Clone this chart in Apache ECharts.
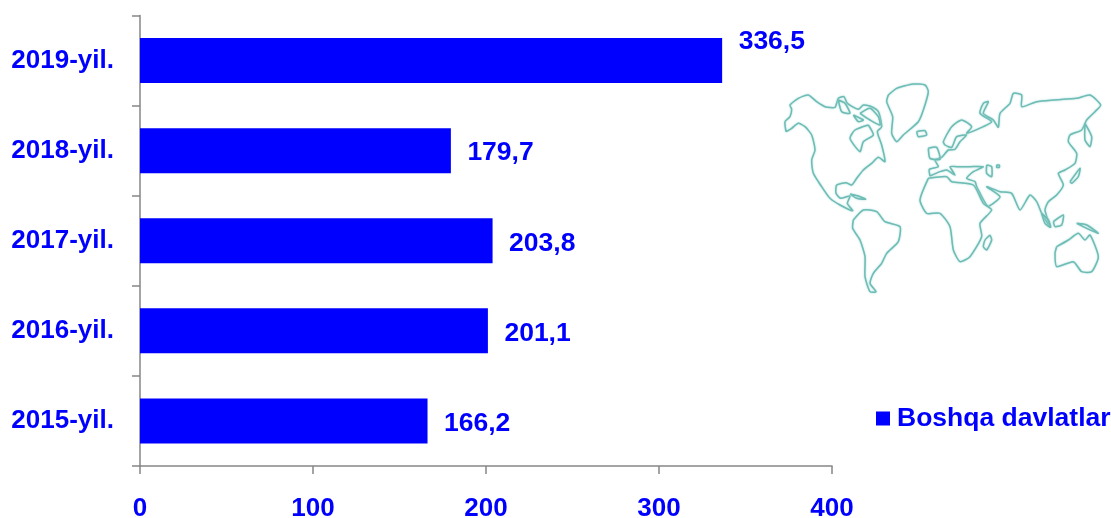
<!DOCTYPE html>
<html><head><meta charset="utf-8">
<style>html,body{margin:0;padding:0;background:#fff}#c{width:1111px;height:518px}</style>
<script src="https://cdn.jsdelivr.net/npm/echarts@6/dist/echarts.min.js"></script>
</head><body><div id="c"></div>
<script>
const categories = ['2015-yil.','2016-yil.','2017-yil.','2018-yil.','2019-yil.'];
const values = [166.2,201.1,203.8,179.7,336.5];
const seriesName = 'Boshqa davlatlar';
const xTicks = {min:0,max:400,interval:100};
const BLUE = '#0000ff';
const FF = '"Liberation Sans", Arial, sans-serif';

// decorative world-map outline, in a 3x picture space
const mapOutlines = [
 [[48,185],[45,155],[60,140],[65,118],[60,105],[85,85],[115,75],[140,95],[165,110],[195,112],[205,85],[222,80],[232,100],[265,118],[280,105],[300,108],[325,125],[335,170],[322,185],[335,225],[345,275],[325,262],[305,280],[280,300],[260,325],[245,345],[228,338],[200,345],[198,370],[212,385],[240,378],[232,400],[248,422],[210,405],[180,385],[155,350],[130,310],[125,270],[135,240],[125,195],[105,170],[85,160],[65,175],[48,185]],
 [[295,165],[255,180],[240,205],[270,245],[280,215],[310,195],[295,165]],
 [[270,130],[300,115],[325,140],[330,165],[300,150],[270,130]],
 [[205,90],[225,100],[240,130],[215,125],[205,90]],
 [[250,135],[280,150],[265,155],[250,135]],
 [[355,75],[380,55],[430,42],[465,45],[475,65],[460,120],[445,155],[400,195],[380,215],[365,190],[368,140],[350,95],[355,75]],
 [[440,185],[465,182],[470,195],[445,200],[440,185]],
 [[250,450],[280,420],[320,425],[345,455],[390,470],[385,515],[350,550],[335,580],[310,610],[300,640],[318,665],[300,665],[285,620],[285,560],[270,510],[248,475],[250,450]],
 [[240,372],[265,378],[287,388],[260,385],[240,372]],
 [[480,318],[478,298],[505,290],[495,270],[515,262],[535,240],[555,238],[570,215],[590,195],[560,200],[545,232],[525,225],[520,215],[545,170],[575,150],[605,170],[590,190],[640,170],[665,155],[630,130],[640,100],[655,95],[640,130],[670,150],[685,172],[690,130],[720,100],[730,70],[755,75],[755,110],[800,95],[850,90],[920,85],[960,75],[992,105],[975,125],[950,150],[935,180],[900,195],[895,215],[920,250],[915,280],[885,300],[865,310],[880,345],[860,375],[835,395],[825,420],[840,470],[815,430],[800,395],[780,375],[750,420],[725,370],[690,365],[650,350],[690,380],[670,400],[652,408],[620,350],[615,335],[590,325],[610,305],[640,290],[600,290],[560,290],[540,290],[555,315],[530,300],[510,305],[480,318]],
 [[475,325],[530,320],[545,335],[610,345],[640,400],[665,420],[630,460],[635,500],[600,560],[570,575],[550,540],[540,470],[510,430],[470,430],[450,390],[475,325]],
 [[660,495],[665,510],[650,540],[640,530],[645,510],[660,495]],
 [[860,530],[895,510],[925,490],[945,510],[960,495],[985,560],[965,605],[935,605],[910,575],[860,590],[855,550],[860,530]],
 [[920,460],[950,465],[985,490],[950,475],[920,460]],
 [[850,455],[880,435],[875,465],[855,470],[850,455]],
 [[900,335],[930,295],[925,320],[905,340],[900,335]],
 [[475,235],[500,232],[510,268],[480,265],[475,235]],
 [[650,285],[665,290],[665,320],[650,310],[650,285]],
 [[680,285],[688,285],[688,292],[680,292],[680,285]],
 [[945,160],[965,200],[960,230],[945,210],[945,160]],
 [[815,430],[835,450],[842,472],[825,460],[815,430]]
];

const chart = echarts.init(document.getElementById('c'), null, {renderer:'canvas'});
chart.setOption({
 animation:false,
 textStyle:{fontFamily:FF},
 grid:{left:140,right:279,top:15.5,bottom:52,containLabel:false,outerBoundsMode:'none'},
 legend:{
  data:[seriesName], left:871, top:400, itemWidth:14, itemHeight:14,
  icon:'rect', textStyle:{color:BLUE,fontSize:26.5,fontWeight:'bold',fontFamily:FF,padding:[0,0,0,2]}
 },
 xAxis:{type:'value',min:xTicks.min,max:xTicks.max,interval:xTicks.interval,
  splitLine:{show:false},
  axisLine:{show:true,lineStyle:{color:'#868686',width:1.5}},
  axisTick:{show:true,length:8,lineStyle:{color:'#868686',width:1.5}},
  axisLabel:{color:BLUE,fontSize:26,fontWeight:'bold',margin:30,fontFamily:FF}},
 yAxis:{type:'category',data:categories,
  axisLine:{show:true,lineStyle:{color:'#868686',width:1.5}},
  axisTick:{show:true,length:8,alignWithLabel:false,lineStyle:{color:'#868686',width:1.5}},
  axisLabel:{color:BLUE,fontSize:26,fontWeight:'bold',margin:26,fontFamily:FF,padding:[12,0,0,0]}},
 series:[{
  name:seriesName,type:'bar',barWidth:45,itemStyle:{color:BLUE},
  data:values.map((v,i)=>({value:v,label:{offset:[0,i===values.length-1?-19:2.5]}})),
  label:{show:true,position:'right',distance:16.5,color:BLUE,fontSize:26.5,fontWeight:'bold',fontFamily:FF,
   formatter:p=>String(p.value.toFixed(1)).replace('.',',')}
 }],
 graphic:mapOutlines.map(pts=>({
  type:'polyline',silent:true,x:770,y:70,scaleX:1/3,scaleY:1/3,
  shape:{points:pts,smooth:0.2},
  style:{fill:null,stroke:'#6dbcb5',lineWidth:4.5,shadowBlur:2,shadowColor:'#9ad4ce'}
 }))
});
</script></body></html>
